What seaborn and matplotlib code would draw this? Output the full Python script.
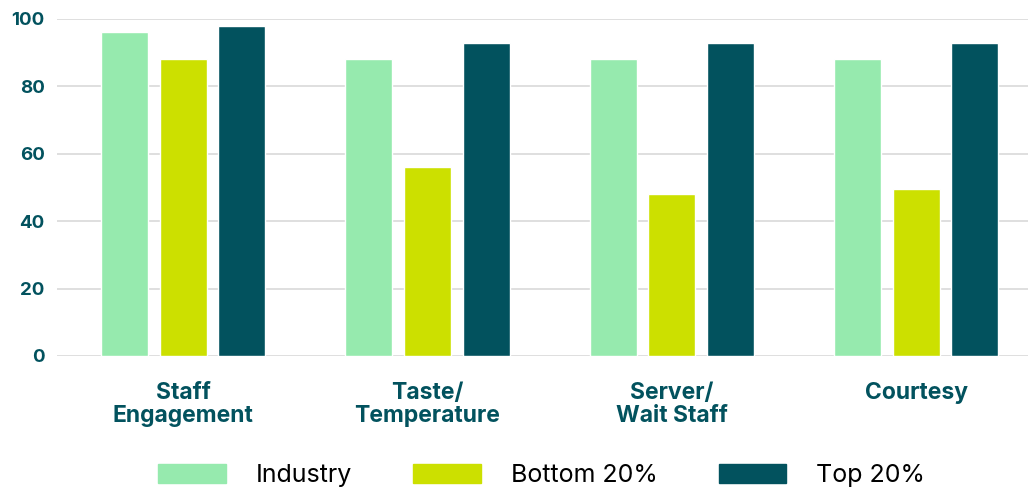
import pandas as pd
import matplotlib.pyplot as plt
import seaborn as sns

# dados
categorias = ['Staff\nEngagement', 'Taste/\nTemperature', 'Server/\nWait Staff', 'Courtesy']
grupos = ['Industry', 'Bottom 20%', 'Top 20%']
industry = [96, 88, 88, 88]
bottom20 = [88, 56, 48, 49.5]
top20 = [98, 93, 93, 93]
cores = ['#96EAAE', '#CCE000', '#02525E']

df = pd.DataFrame({
    'categoria': categorias * 3,
    'grupo': [g for g in grupos for _ in categorias],
    'valor': industry + bottom20 + top20,
})

sns.set_style('white')
plt.rcParams['font.family'] = ['Inter', 'DejaVu Sans']

fig = plt.figure(figsize=(10.28, 4.87), dpi=100)
ax = fig.add_axes([0.0555, 0.269, 0.9445, 0.692])

sns.barplot(data=df, x='categoria', y='valor', hue='grupo', palette=cores,
            saturation=1, width=0.72, gap=0.2, ax=ax, legend=False)

ax.set_xlim(-0.516, 3.458)
ax.set_ylim(0, 100)
ax.set_yticks([0, 20, 40, 60, 80, 100])
ax.yaxis.grid(True, color='#d9d9d9', linewidth=1.2)
ax.set_axisbelow(True)
for s in ax.spines.values():
    s.set_visible(False)
ax.set_xlabel('')
ax.set_ylabel('')
ax.tick_params(axis='x', length=0, pad=19, labelsize=16.5, labelcolor='#02525E')
ax.tick_params(axis='y', length=0, pad=9, labelsize=13.5, labelcolor='#02525E')
for t in ax.get_xticklabels() + ax.get_yticklabels():
    t.set_fontweight('bold')
for t in ax.get_xticklabels():
    t.set_linespacing(1.05)

handles = [plt.Rectangle((0, 0), 1, 1, color=c) for c in cores]
fig.legend(handles, grupos, loc='center', bbox_to_anchor=(0.527, 0.024), ncol=3,
           frameon=False, fontsize=18, labelcolor='black', handlelength=2.7,
           handleheight=0.8, handletextpad=1.2, columnspacing=2.45)

fig.savefig('out.png', dpi=100)
